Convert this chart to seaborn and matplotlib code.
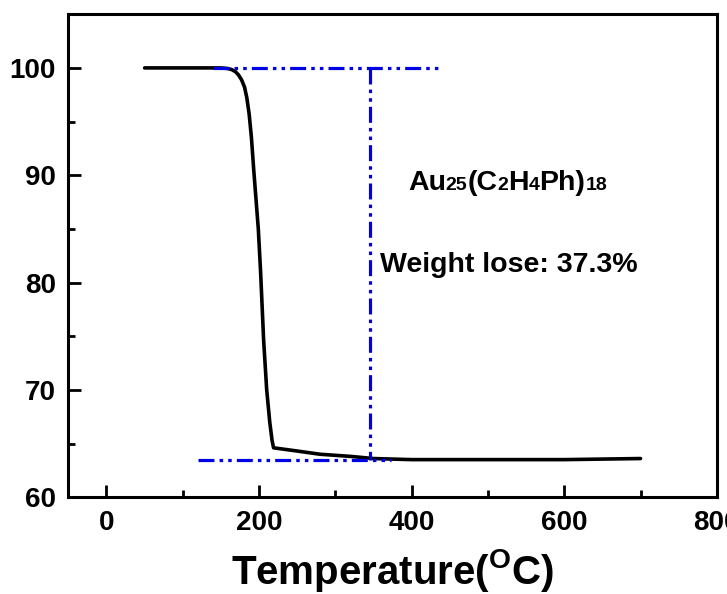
import numpy as np
import pandas as pd
import seaborn as sns
import matplotlib.pyplot as plt
from matplotlib.offsetbox import TextArea, HPacker, AnnotationBbox
from matplotlib.ticker import MultipleLocator

# TGA curve
temperature = [50, 100, 150, 158, 164, 169, 173, 177, 181, 184, 187, 190, 193, 199, 202, 206, 210, 214, 217, 219,
               250, 280, 320, 350, 400, 500, 600, 700]
weight = [100, 100, 100, 99.95, 99.85, 99.65, 99.35, 98.9, 98.2, 97.2, 95.7, 93.5, 90.5, 85.0, 81.0, 74.6, 70.0,
          67.0, 65.3, 64.6, 64.3, 64.0, 63.8, 63.6, 63.5, 63.5, 63.5, 63.6]

# guide lines (blue dash-dot-dot)
top_x = [140, 440]
top_y = [100, 100]
bottom_x = [120, 373]
bottom_y = [63.5, 63.5]
vert_x = [345, 345]
vert_y = [100, 63.5]

sns.set_style("ticks")
plt.rcParams['font.family'] = ['Liberation Sans', 'DejaVu Sans']
plt.rcParams['font.weight'] = 'bold'
plt.rcParams['text.color'] = 'black'
plt.rcParams['xtick.color'] = 'black'
plt.rcParams['ytick.color'] = 'black'
plt.rcParams['axes.labelcolor'] = 'black'
plt.rcParams['axes.edgecolor'] = 'black'
plt.rcParams['mathtext.fontset'] = 'custom'
plt.rcParams['mathtext.rm'] = 'Liberation Sans:bold'
plt.rcParams['mathtext.bf'] = 'Liberation Sans:bold'

fig = plt.figure(figsize=(7.27, 5.94), dpi=100)
ax = fig.add_axes([0.094, 0.163, 0.892, 0.813])

df = pd.DataFrame({"T": temperature, "W": weight})
sns.lineplot(data=df, x="T", y="W", color="black", linewidth=2.6, ax=ax, sort=False)

blue = "#0000e6"
dash = (5, 1.6, 1.1, 1.6, 1.1, 1.6)
for xs, ys in [(top_x, top_y), (bottom_x, bottom_y), (vert_x, vert_y)]:
    ax.plot(xs, ys, color=blue, linewidth=2.3, dashes=dash)

ax.set_xlim(-50, 800)
ax.set_ylim(60, 105)
ax.xaxis.set_major_locator(MultipleLocator(200))
ax.xaxis.set_minor_locator(MultipleLocator(100))
ax.yaxis.set_major_locator(MultipleLocator(10))
ax.yaxis.set_minor_locator(MultipleLocator(5))
ax.tick_params(which='major', direction='in', length=9, width=2, labelsize=20, pad=9)
ax.tick_params(which='minor', direction='in', length=5, width=2)
for lab in ax.get_xticklabels() + ax.get_yticklabels():
    lab.set_fontweight('bold')
for sp in ax.spines.values():
    sp.set_linewidth(2.2)
    sp.set_visible(True)

ax.set_xlabel("Temperature($^{\\mathrm{O}}$C)", fontsize=29, fontweight='bold', labelpad=8)
ax.set_ylabel("")

# formula with small numbers on the baseline
big = dict(fontsize=20.5, fontweight='bold', color='black')
small = dict(fontsize=14, fontweight='bold', color='black')
parts = [("Au", big), ("25", small), ("(C", big), ("2", small), ("H", big), ("4", small),
         ("Ph)", big), ("18", small)]
box = HPacker(children=[TextArea(t, textprops=p) for t, p in parts], align="baseline", pad=0, sep=0)
ab = AnnotationBbox(box, (395, 89.3), xycoords='data', frameon=False, box_alignment=(0.0, 0.5))
ax.add_artist(ab)

ax.text(358, 81.6, "Weight lose: 37.3%", fontsize=20.5, fontweight='bold', va='center', ha='left')

fig.savefig("out.png", dpi=100)
